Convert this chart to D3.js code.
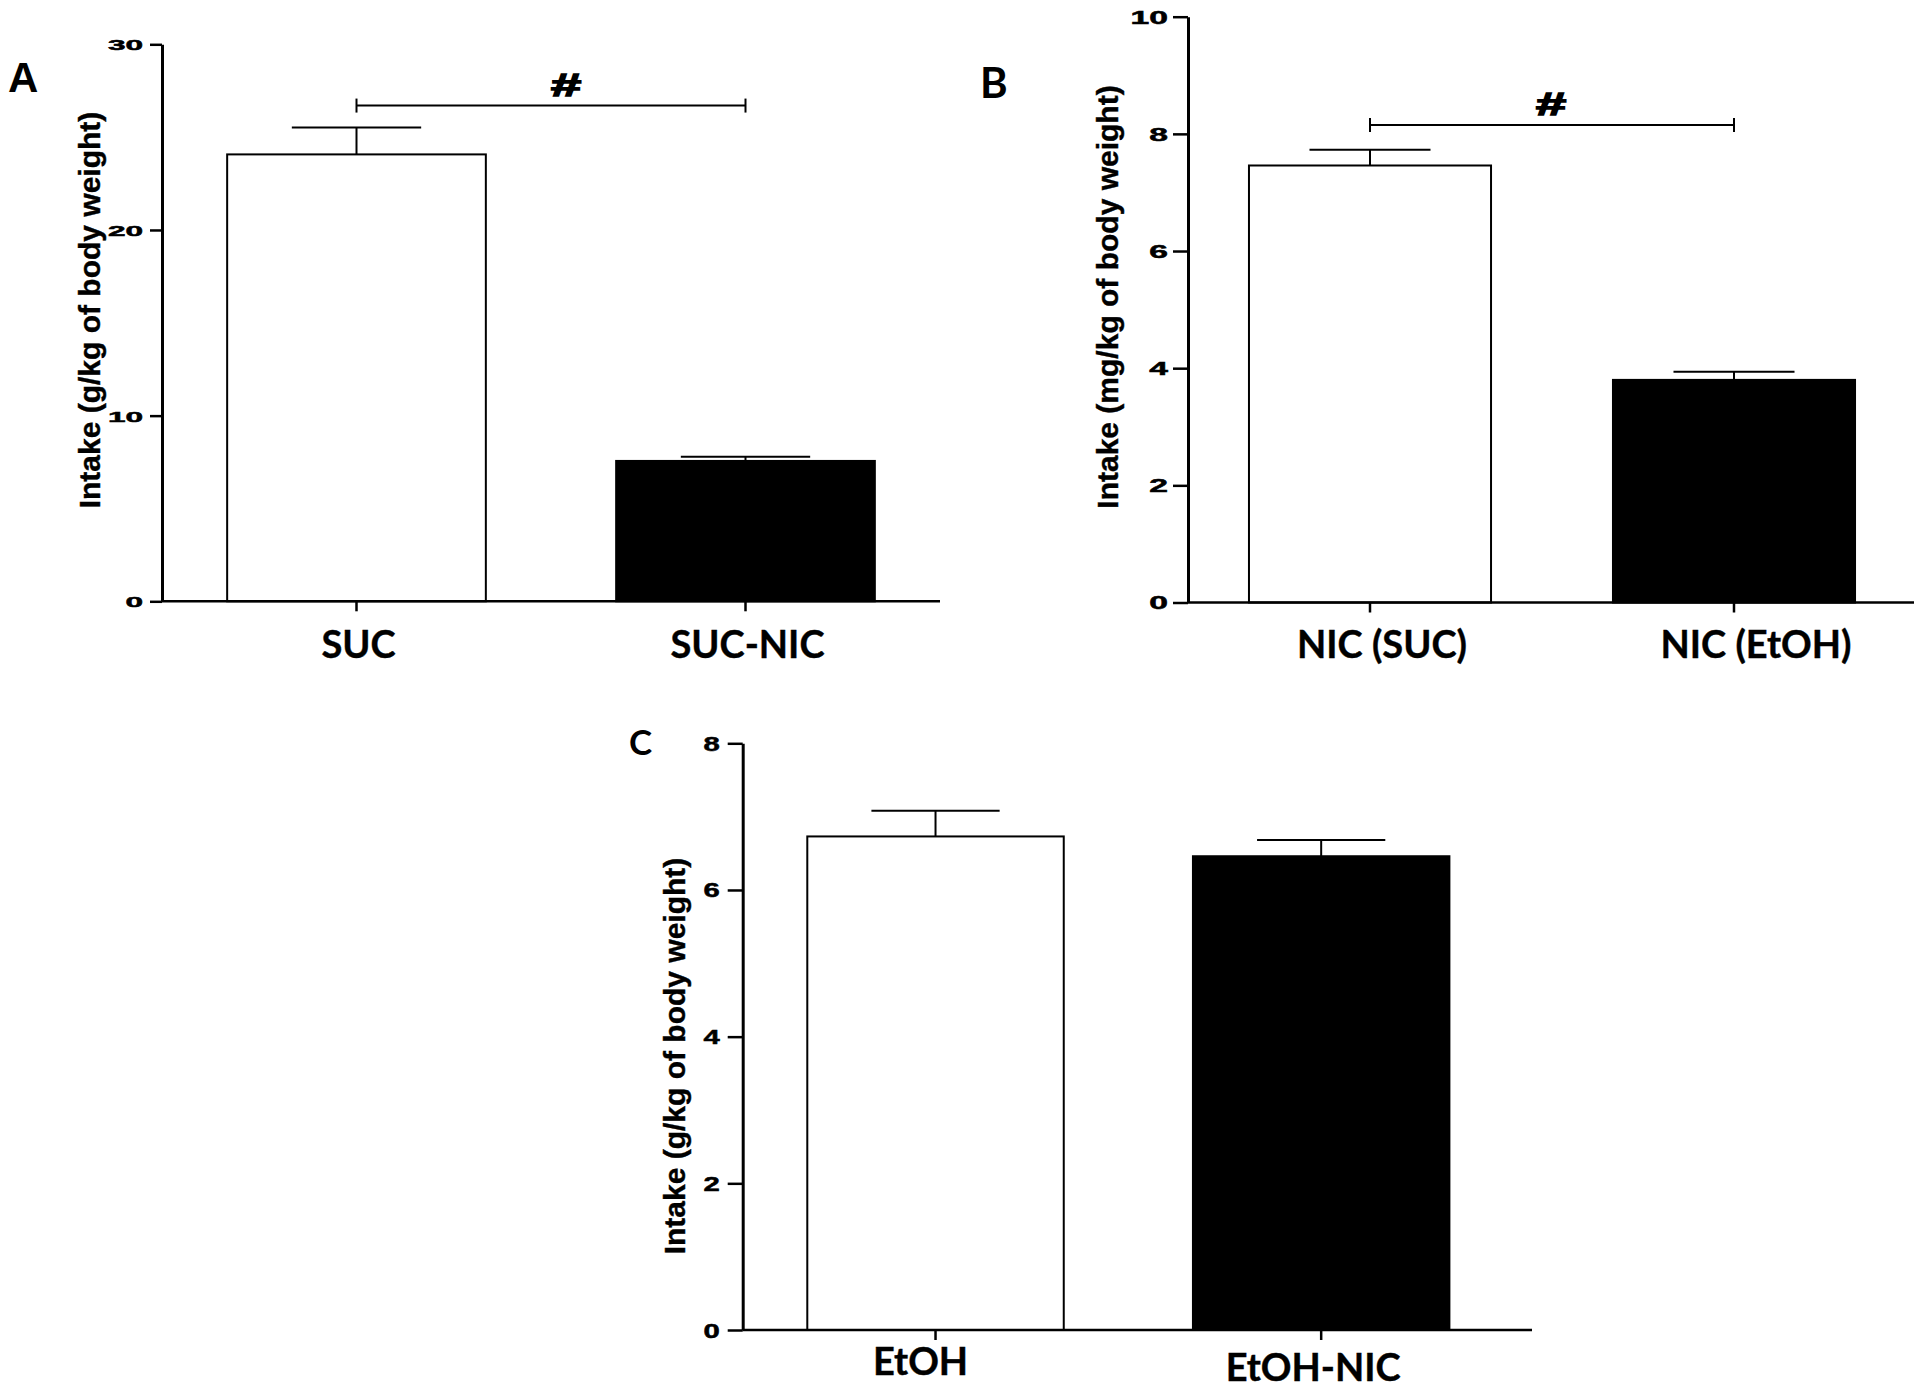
<!DOCTYPE html>
<html>
<head>
<meta charset="utf-8">
<script src="https://cdn.jsdelivr.net/npm/d3@7"></script>
<style>
  body { margin: 0; background: #fff; }
  svg { display: block; }
</style>
</head>
<body>
<script>
// Datos (media y error estándar)
const groupsA = ["SUC", "SUC-NIC"];
const meansA  = [24.07, 7.56];
const semA    = [1.45, 0.23];
const ticksA  = [0, 10, 20, 30];
const sigA    = ["SUC", "SUC-NIC"];
const sigLevelA = 26.7;

const groupsB = ["NIC (SUC)", "NIC (EtOH)"];
const meansB  = [7.46, 3.80];
const semB    = [0.27, 0.14];
const ticksB  = [0, 2, 4, 6, 8, 10];
const sigB    = ["NIC (SUC)", "NIC (EtOH)"];
const sigLevelB = 8.15;

const groupsC = ["EtOH", "EtOH-NIC"];
const meansC  = [6.73, 6.46];
const semC    = [0.35, 0.22];
const ticksC  = [0, 2, 4, 6, 8];

const fills = ["#ffffff", "#000000"];

const WIDTH = 1920, HEIGHT = 1390;
const svg = d3.select("body").append("svg")
    .attr("width", WIDTH)
    .attr("height", HEIGHT);

const ARIAL = "'Liberation Sans', Arial, sans-serif";
const CALIBRI = "Lato, 'Open Sans', sans-serif";

function drawPanel(p) {
    let g = svg.append("g").attr("class", "panel-" + p.letter);

    let x = d3.scaleBand()
        .domain(p.groups)
        .range([p.x0, p.x1])
        .paddingInner(0.335)
        .paddingOuter(0.1675);

    let y = d3.scaleLinear()
        .domain([0, d3.max(p.ticks)])
        .range([p.yBottom, p.yTop]);

    // barras
    g.selectAll("rect.bar")
        .data(p.means)
        .enter().append("rect")
        .attr("class", "bar")
        .attr("x", (d, i) => x(p.groups[i]))
        .attr("width", x.bandwidth())
        .attr("y", d => y(d))
        .attr("height", d => y(0) - y(d))
        .attr("fill", (d, i) => fills[i])
        .attr("stroke", "#000")
        .attr("stroke-width", 2);

    // barras de error (solo hacia arriba)
    let err = g.selectAll("g.err")
        .data(p.means)
        .enter().append("g")
        .attr("class", "err")
        .attr("stroke", "#000")
        .attr("stroke-width", 2);
    err.append("line")
        .attr("x1", (d, i) => x(p.groups[i]) + x.bandwidth() / 2)
        .attr("x2", (d, i) => x(p.groups[i]) + x.bandwidth() / 2)
        .attr("y1", d => y(d))
        .attr("y2", (d, i) => y(d + p.sem[i]));
    err.append("line")
        .attr("x1", (d, i) => x(p.groups[i]) + x.bandwidth() / 4)
        .attr("x2", (d, i) => x(p.groups[i]) + x.bandwidth() * 3 / 4)
        .attr("y1", (d, i) => y(d + p.sem[i]))
        .attr("y2", (d, i) => y(d + p.sem[i]));

    // eje y
    let yAxis = g.append("g")
        .attr("transform", `translate(${p.x0},0)`)
        .call(d3.axisLeft(y).tickValues(p.ticks).tickSize(p.tickLen).tickSizeOuter(0));
    yAxis.select(".domain").attr("stroke-width", 3);
    yAxis.selectAll(".tick line").attr("stroke-width", 2.5);
    yAxis.selectAll(".tick text")
        .attr("font-family", ARIAL)
        .attr("font-weight", "bold")
        .attr("font-size", p.tickFont)
        .attr("fill", "#000")
        .attr("stroke", "#000")
        .attr("stroke-width", 0.5)
        .attr("x", -p.tickGap / p.tickStretch)
        .attr("dy", "0.36em")
        .attr("transform", `scale(${p.tickStretch},1)`);

    // eje x
    let xAxis = g.append("g")
        .attr("transform", `translate(0,${p.yBottom})`)
        .call(d3.axisBottom(x).tickSize(10).tickSizeOuter(0));
    xAxis.select(".domain")
        .attr("d", `M${p.x0},0H${p.axisEnd}`)
        .attr("stroke-width", 2.5);
    xAxis.selectAll(".tick line").attr("stroke-width", 2.5);
    xAxis.selectAll(".tick text")
        .attr("font-family", CALIBRI)
        .attr("font-weight", "bold")
        .attr("font-size", p.catFont)
        .attr("fill", "#000")
        .attr("stroke", "#000")
        .attr("stroke-width", 0.4)
        .attr("dy", 0)
        .attr("y", (d, i) => p.catBase[i])
        .attr("dx", (d, i) => p.catDx[i]);

    // título del eje y
    g.append("text")
        .attr("transform", `translate(${p.yLabelX},${p.yLabelY}) rotate(-90)`)
        .attr("text-anchor", "middle")
        .attr("font-family", ARIAL)
        .attr("font-weight", "bold")
        .attr("font-size", 30)
        .attr("stroke", "#000")
        .attr("stroke-width", 0.4)
        .text(p.yLabel);

    // letra del panel
    g.append("text")
        .attr("x", p.letterX)
        .attr("y", p.letterY)
        .attr("font-family", p.letterFamily)
        .attr("font-weight", "bold")
        .attr("font-size", p.letterSize)
        .text(p.letter);

    // corchete de significancia
    if (p.sig) {
        let xa = x(p.sig[0]) + x.bandwidth() / 2,
            xb = x(p.sig[1]) + x.bandwidth() / 2,
            yy = y(p.sigLevel);
        let br = g.append("g").attr("stroke", "#000").attr("stroke-width", 2);
        br.append("line").attr("x1", xa).attr("x2", xb).attr("y1", yy).attr("y2", yy);
        br.append("line").attr("x1", xa).attr("x2", xa).attr("y1", yy - 7).attr("y2", yy + 7);
        br.append("line").attr("x1", xb).attr("x2", xb).attr("y1", yy - 7).attr("y2", yy + 7);
        let mx = (xa + xb) / 2 + p.sigDx;
        g.append("text")
            .attr("transform", `translate(${mx},${yy - 10}) scale(1.75,1)`)
            .attr("text-anchor", "middle")
            .attr("font-family", ARIAL)
            .attr("font-weight", "bold")
            .attr("font-size", 31)
            .attr("stroke", "#000")
            .attr("stroke-width", 1.4)
            .text("#");
    }
}

drawPanel({
    letter: "A", letterX: 8, letterY: 92, letterFamily: ARIAL, letterSize: 42,
    groups: groupsA, means: meansA, sem: semA, ticks: ticksA,
    sig: sigA, sigLevel: sigLevelA, sigDx: 15,
    yLabel: "Intake (g/kg of body weight)",
    x0: 162, x1: 940, axisEnd: 940, yTop: 44.3, yBottom: 601.3,
    tickLen: 12, tickFont: 15.4, tickStretch: 2.05, tickGap: 19,
    yLabelX: 100, yLabelY: 310,
    catFont: 38, catBase: [57, 57], catDx: [2, 2]
});

drawPanel({
    letter: "B", letterX: 980, letterY: 98, letterFamily: CALIBRI, letterSize: 42,
    groups: groupsB, means: meansB, sem: semB, ticks: ticksB,
    sig: sigB, sigLevel: sigLevelB, sigDx: -1,
    yLabel: "Intake (mg/kg of body weight)",
    x0: 1188, x1: 1916, axisEnd: 1914, yTop: 16.7, yBottom: 602.5,
    tickLen: 15, tickFont: 17.7, tickStretch: 1.9, tickGap: 20,
    yLabelX: 1118, yLabelY: 297,
    catFont: 38, catBase: [55, 55], catDx: [12, 22]
});

drawPanel({
    letter: "C", letterX: 629, letterY: 755, letterFamily: CALIBRI, letterSize: 35,
    groups: groupsC, means: meansC, sem: semC, ticks: ticksC,
    sig: null,
    yLabel: "Intake (g/kg of body weight)",
    x0: 742.7, x1: 1514, axisEnd: 1532, yTop: 743.3, yBottom: 1330,
    tickLen: 15, tickFont: 19.5, tickStretch: 1.5, tickGap: 23,
    yLabelX: 685, yLabelY: 1056,
    catFont: 38, catBase: [45, 51], catDx: [-15, -8]
});
</script>
</body>
</html>
